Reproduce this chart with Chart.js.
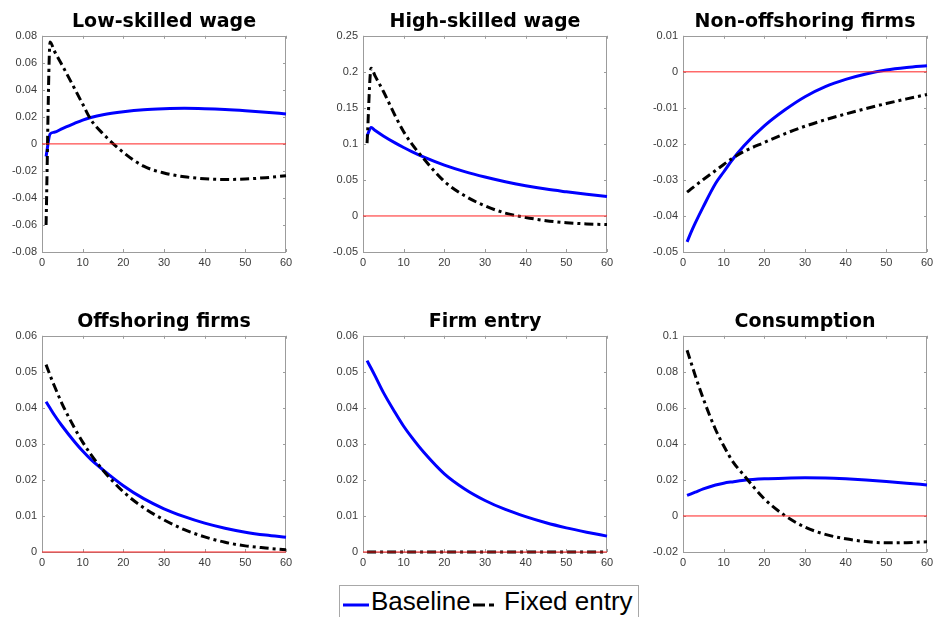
<!DOCTYPE html>
<html>
<head>
<meta charset="utf-8">
<script src="https://cdn.jsdelivr.net/npm/chart.js@4.4.0/dist/chart.umd.min.js"></script>
<style>
  body { margin: 0; background: #fff; }
  #fig { position: relative; width: 934px; height: 617px; overflow: hidden; background: #fff; }
  .panel { position: absolute; width: 298px; height: 271px; }
  #legend { position: absolute; left: 339px; top: 585px; width: 298px; height: 40px; border: 1px solid #a8a8a8;
    font-family: 'Liberation Sans', Arial, sans-serif; font-size: 26px; line-height: 26px; color: #000; }
  #legend span, #legend svg { position: absolute; top: 2px; }
</style>
</head>
<body>
<div id="fig">
  <div class="panel"><canvas id="c0"></canvas></div>
  <div class="panel"><canvas id="c1"></canvas></div>
  <div class="panel"><canvas id="c2"></canvas></div>
  <div class="panel"><canvas id="c3"></canvas></div>
  <div class="panel"><canvas id="c4"></canvas></div>
  <div class="panel"><canvas id="c5"></canvas></div>
  <div id="legend"></div>
</div>
<script>
// periods (x) shared by every curve
const periods = [1, 2, 3, 5, 8, 10, 12, 15, 20, 25, 30, 35, 40, 45, 50, 55, 60]
const zeroX = [0, 60]
const zeroY = [0, 0]
const seriesNames = ['Baseline', 'Fixed entry']

const titles = ['Low-skilled wage', 'High-skilled wage', 'Non-offshoring firms',
  'Offshoring firms', 'Firm entry', 'Consumption']

// low-skilled wage
const lowWageBase = [-0.0094, 0.0074, 0.0086, 0.0113, 0.0152, 0.0176, 0.0195, 0.0216, 0.0238, 0.0253, 0.0260, 0.0263, 0.0260, 0.0254, 0.0245, 0.0234, 0.0222]
const lowWageFixed = [-0.060, 0.0755, 0.069, 0.058, 0.041, 0.0295, 0.0180, 0.0075, -0.0063, -0.0165, -0.0215, -0.0243, -0.0258, -0.0263, -0.0260, -0.0250, -0.0236]

// high-skilled wage
const highWageBase = [0.111, 0.1226, 0.1185, 0.111, 0.101, 0.095, 0.0893, 0.0815, 0.0705, 0.0615, 0.054, 0.0475, 0.042, 0.0373, 0.0335, 0.030, 0.027]
const highWageFixed = [0.101, 0.205, 0.194, 0.173, 0.138, 0.117, 0.100, 0.079, 0.048, 0.028, 0.014, 0.004, -0.002, -0.0065, -0.0093, -0.011, -0.012]

// non-offshoring firms
const nonOffBase = [-0.0472, -0.0445, -0.042, -0.0374, -0.031, -0.0278, -0.0246, -0.0205, -0.0150, -0.0106, -0.0069, -0.0041, -0.0021, -0.0006, 0.0005, 0.0012, 0.0017]
const nonOffFixed = [-0.0334, -0.0325, -0.0316, -0.0299, -0.0274, -0.0257, -0.0241, -0.0221, -0.0196, -0.0172, -0.0151, -0.0133, -0.0117, -0.0102, -0.0088, -0.0075, -0.0063]

// offshoring firms
const offBase = [0.0417, 0.0399, 0.0381, 0.0349, 0.0306, 0.0280, 0.0257, 0.0228, 0.0184, 0.0148, 0.0120, 0.0098, 0.0080, 0.0066, 0.0055, 0.0047, 0.0041]
const offFixed = [0.052, 0.049, 0.0462, 0.0410, 0.0344, 0.0305, 0.0271, 0.0227, 0.0167, 0.0123, 0.0089, 0.0062, 0.0042, 0.0027, 0.0017, 0.0011, 0.0006]

// firm entry
const entryBase = [0.0531, 0.051, 0.0488, 0.0443, 0.0385, 0.0349, 0.0318, 0.0276, 0.0217, 0.0175, 0.0143, 0.0118, 0.0098, 0.0081, 0.0067, 0.0055, 0.0044]
const entryFixed = [0, 0, 0, 0, 0, 0, 0, 0, 0, 0, 0, 0, 0, 0, 0, 0, 0]

// consumption
const consBase = [0.0114, 0.0123, 0.0132, 0.0150, 0.0172, 0.0182, 0.0189, 0.0198, 0.0206, 0.0210, 0.0212, 0.0211, 0.0206, 0.0199, 0.0191, 0.0182, 0.0172]
const consFixed = [0.092, 0.085, 0.078, 0.065, 0.048, 0.039, 0.031, 0.0225, 0.0095, 0.0003, -0.0062, -0.0102, -0.0127, -0.0142, -0.0149, -0.0148, -0.0143]

const baseSeries = [lowWageBase, highWageBase, nonOffBase, offBase, entryBase, consBase]
const fixedSeries = [lowWageFixed, highWageFixed, nonOffFixed, offFixed, entryFixed, consFixed]

// y axis limits per panel
const yMins = [-0.08, -0.05, -0.05, 0, 0, -0.02]
const yMaxs = [0.08, 0.25, 0.01, 0.06, 0.06, 0.1]
const ySteps = [0.02, 0.05, 0.01, 0.01, 0.01, 0.02]

const xMin = 0
const xMax = 60
const xStep = 10

// plot area corners
const plotLefts = [42, 363, 683]
const plotTops = [37, 337]

const baseStyle = { color: '#0000ff', dash: [] }
const fixedStyle = { color: '#000000', dash: [9, 4, 3, 4] }

Chart.defaults.font.family = "'Liberation Sans', Arial, sans-serif"

function pares(xs, ys) {
  return xs.map((x, i) => ({ x: x, y: ys[i] }))
}

// matlab style box with inward ticks
const boxPlugin = {
  id: 'box',
  beforeDatasetsDraw(chart) {
    const { ctx, chartArea: a, scales } = chart
    const tick = 3
    ctx.save()
    ctx.strokeStyle = '#9c9c9c'
    ctx.lineWidth = 1
    ctx.beginPath()
    scales.x.ticks.forEach(t => {
      const px = Math.round(scales.x.getPixelForValue(t.value)) + 0.5
      ctx.moveTo(px, a.bottom); ctx.lineTo(px, a.bottom - tick)
      ctx.moveTo(px, a.top); ctx.lineTo(px, a.top + tick)
    })
    scales.y.ticks.forEach(t => {
      const py = Math.round(scales.y.getPixelForValue(t.value)) + 0.5
      ctx.moveTo(a.left, py); ctx.lineTo(a.left + tick, py)
      ctx.moveTo(a.right, py); ctx.lineTo(a.right - tick, py)
    })
    ctx.stroke()
    ctx.strokeRect(Math.round(a.left) + 0.5, Math.round(a.top) + 0.5, Math.round(a.width) - 1, Math.round(a.height))
    ctx.restore()
  }
}

for (let i = 0; i < 6; i++) {
  const holder = document.getElementById('c' + i).parentNode
  holder.style.left = (plotLefts[i % 3] - 42) + 'px'
  holder.style.top = (plotTops[Math.floor(i / 3)] - 36) + 'px'

  new Chart(document.getElementById('c' + i), {
    type: 'line',
    data: {
      datasets: [
        {
          label: 'zero',
          data: pares(zeroX, zeroY),
          borderColor: '#ff2020',
          borderWidth: 1,
          pointRadius: 0,
          clip: 3,
        },
        {
          label: seriesNames[1],
          data: pares(periods, fixedSeries[i]),
          borderColor: fixedStyle.color,
          borderDash: fixedStyle.dash,
          borderWidth: 3,
          pointRadius: 0,
          cubicInterpolationMode: 'monotone',
          clip: 3,
        },
        {
          label: seriesNames[0],
          data: pares(periods, baseSeries[i]),
          borderColor: baseStyle.color,
          borderWidth: 3,
          pointRadius: 0,
          cubicInterpolationMode: 'monotone',
          clip: 3,
        },
      ],
    },
    options: {
      responsive: true,
      maintainAspectRatio: false,
      animation: false,
      events: [],
      layout: { padding: { left: 0, right: 12, top: 0, bottom: 0 } },
      plugins: {
        legend: { display: false },
        tooltip: { enabled: false },
        title: {
          display: true,
          text: titles[i],
          fullSize: false,
          color: '#000',
          font: { family: "'DejaVu Sans', sans-serif", size: 19, weight: 'bold' },
          padding: { top: 10, bottom: 2 },
        },
      },
      scales: {
        x: {
          type: 'linear',
          min: xMin,
          max: xMax,
          grid: { display: false, drawTicks: false, tickLength: 0 },
          border: { display: false },
          ticks: { stepSize: xStep, color: '#3a3a3a', font: { size: 11 }, padding: 4, maxRotation: 0, autoSkip: false },
          afterFit: s => { s.height = 20 },
        },
        y: {
          min: yMins[i],
          max: yMaxs[i],
          grid: { display: false, drawTicks: false, tickLength: 0 },
          border: { display: false },
          ticks: {
            stepSize: ySteps[i],
            color: '#3a3a3a',
            font: { size: 11 },
            padding: 5,
            autoSkip: false,
            callback: v => String(Number(v.toFixed(4))),
          },
          afterFit: s => { s.width = 42 },
        },
      },
    },
    plugins: [boxPlugin],
  })
}

// legend built from the series names
const legend = document.getElementById('legend')
const legendItems = [
  { name: seriesNames[0], style: baseStyle, lineX: 3, textX: 31 },
  { name: seriesNames[1], style: fixedStyle, lineX: 133, textX: 164 },
]
legendItems.forEach(item => {
  const svg = document.createElementNS('http://www.w3.org/2000/svg', 'svg')
  svg.setAttribute('width', 26)
  svg.setAttribute('height', 26)
  svg.style.left = item.lineX + 'px'
  const ln = document.createElementNS('http://www.w3.org/2000/svg', 'line')
  ln.setAttribute('x1', 0); ln.setAttribute('x2', 26)
  ln.setAttribute('y1', 17); ln.setAttribute('y2', 17)
  ln.setAttribute('stroke', item.style.color)
  ln.setAttribute('stroke-width', 3)
  if (item.style.dash.length) ln.setAttribute('stroke-dasharray', '12,4,5,5')
  svg.appendChild(ln)
  legend.appendChild(svg)

  const txt = document.createElement('span')
  txt.textContent = item.name
  txt.style.left = item.textX + 'px'
  legend.appendChild(txt)
})
</script>
</body>
</html>
